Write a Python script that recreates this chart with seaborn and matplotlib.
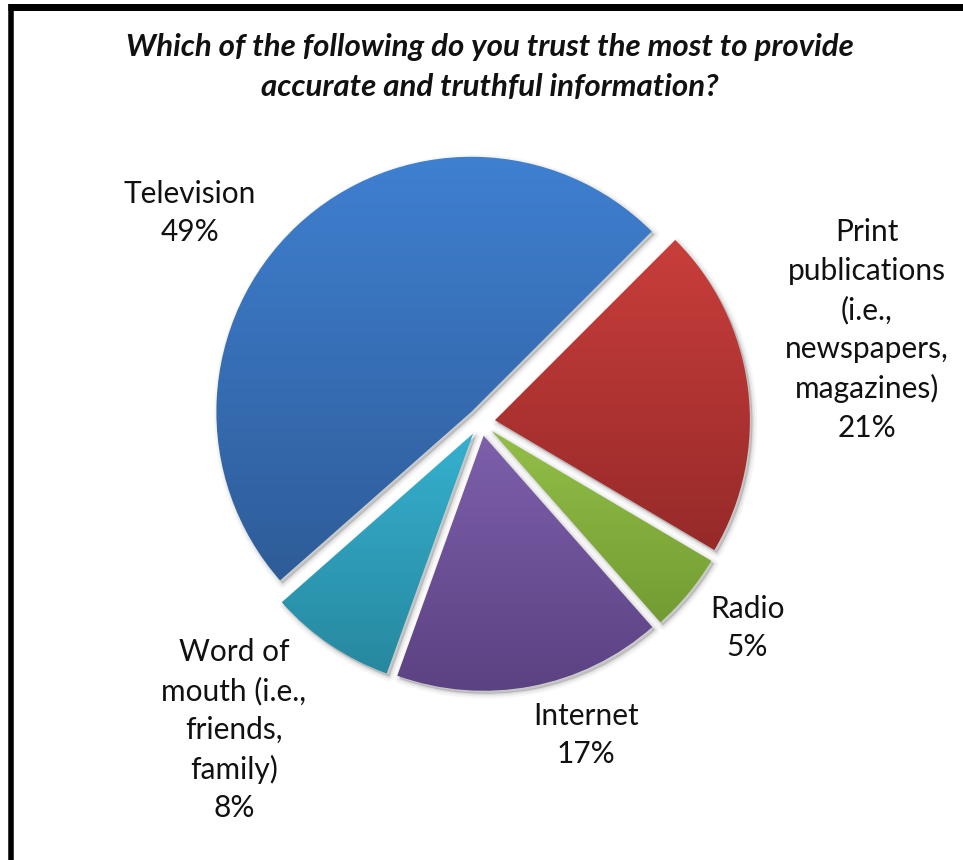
import numpy as np
import matplotlib
matplotlib.use("Agg")
import matplotlib.pyplot as plt
from matplotlib.patches import Wedge
from matplotlib.lines import Line2D
import seaborn as sns

# Survey answers, in clockwise order starting from Television
sources = [
    "Television",
    "Print\npublications\n(i.e.,\nnewspapers,\nmagazines)",
    "Radio",
    "Internet",
    "Word of\nmouth (i.e.,\nfriends,\nfamily)",
]
shares = [49, 21, 5, 17, 8]

# Vertical gradient for each slice: light at the top, dark at the bottom
top_colors = ["#3f80d1", "#c93e3b", "#93bf48", "#7d5fab", "#35b0cf"]
bottom_colors = ["#2e5c98", "#962a29", "#729c32", "#5b4282", "#27889f"]

title = ("Which of the following do you trust the most to provide\n"
         "accurate and truthful information?")

# Label anchor points (pixel coordinates, origin top-left)
label_px = [(190, 213), (867, 330), (747, 628), (586, 735), (234, 730)]

sns.set_theme(style="white")
plt.rcParams["font.family"] = ["Lato", "DejaVu Sans"]

W, H, DPI = 963, 860, 100
fig = plt.figure(figsize=(W / DPI, H / DPI), dpi=DPI)
fig.patch.set_facecolor("white")

# pie centre and radius in pixels
cx, cy, R = 481, 422, 255
ax = fig.add_axes([0, 0, 1, 1])
wedges, _ = ax.pie(shares, startangle=221.4, counterclock=False,
                   explode=[0.055] * len(shares), radius=1, center=(0, 0))


def px(x, y):
    return (x - cx) / R, (cy - y) / R


for w, c0, c1 in zip(wedges, top_colors, bottom_colors):
    w.set_facecolor("none")
    w.set_edgecolor("none")
    # soft drop shadow toward lower right
    for lw, a in [(7, 0.035), (4, 0.05), (1.5, 0.07)]:
        sh = Wedge((w.center[0] + 2.5 / R, w.center[1] - 3 / R), w.r,
                   w.theta1, w.theta2, facecolor="black", edgecolor="black",
                   linewidth=lw, alpha=a, zorder=1, joinstyle="round")
        ax.add_patch(sh)
    ext = w.get_path().get_extents()
    grad = np.array(sns.blend_palette([c0, c1], 256))[:, None, :3]
    im = ax.imshow(grad, extent=(ext.x0, ext.x1, ext.y0, ext.y1),
                   origin="upper", aspect="auto", zorder=2,
                   interpolation="bilinear")
    im.set_clip_path(w)

for name, v, (lx, ly) in zip(sources, shares, label_px):
    x, y = px(lx, ly)
    ax.text(x, y, f"{name}\n{v}%", ha="center", va="center",
            fontsize=21.5, color="#111111", linespacing=1.46, zorder=5)

ax.set_xlim(-cx / R, (W - cx) / R)
ax.set_ylim(-(H - cy) / R, cy / R)
ax.axis("off")

fig.text(490 / W, 1 - 67 / H, title, ha="center", va="center",
         fontsize=22.5, fontweight="bold", fontstyle="italic",
         color="#111111", linespacing=1.5)

# black frame along the top and left edges
fig.add_artist(Line2D([8 / W, 1], [1 - 7 / H, 1 - 7 / H], color="black",
                      linewidth=7 * 72 / DPI, solid_capstyle="butt"))
fig.add_artist(Line2D([10.5 / W, 10.5 / W], [0, 1 - 4 / H], color="black",
                      linewidth=5.5 * 72 / DPI, solid_capstyle="butt"))

fig.savefig("out.png", dpi=DPI, facecolor="white")
